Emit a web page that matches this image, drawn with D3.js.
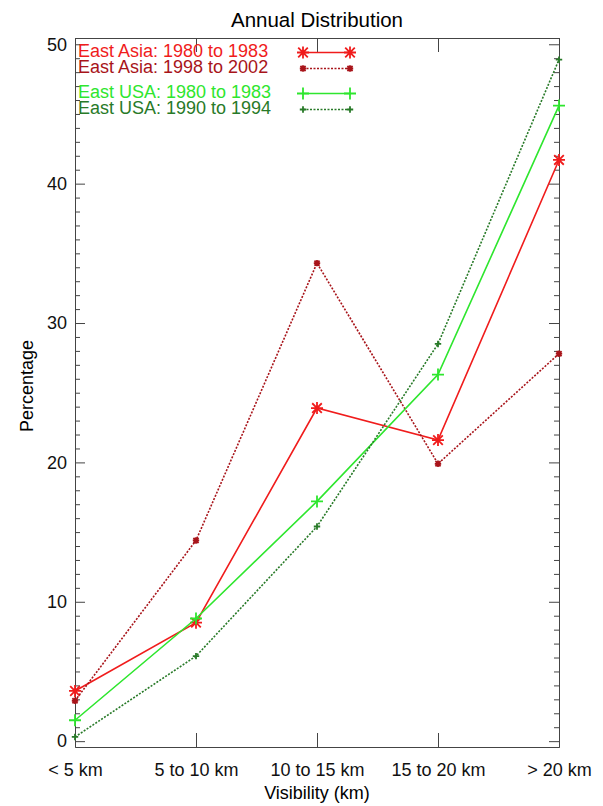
<!DOCTYPE html>
<html>
<head>
<meta charset="utf-8">
<script src="https://cdn.jsdelivr.net/npm/d3@7"></script>
<style>
  body { margin: 0; background: #fff; }
  svg { font-family: "Liberation Sans", Arial, sans-serif; }
  .axis path, .axis line { stroke: #444; }
  .axis text { fill: #111; }
</style>
</head>
<body>
<div id="chart"></div>
<script>
// chart data
const categories = ["< 5 km", "5 to 10 km", "10 to 15 km", "15 to 20 km", "> 20 km"];
const asia1980 = [3.6, 8.5, 23.9, 21.6, 41.7];
const asia1998 = [2.9, 14.4, 34.3, 19.9, 27.8];
const usa1980 = [1.5, 8.8, 17.2, 26.3, 45.6];
const usa1990 = [0.3, 6.1, 15.4, 28.5, 48.9];
const yTicks = [0, 10, 20, 30, 40, 50];
const seriesNames = ["East Asia: 1980 to 1983", "East Asia: 1998 to 2002",
    "East USA: 1980 to 1983", "East USA: 1990 to 1994"];

const width = 603, height = 806;
const plotLeft = 75, plotRight = 559, plotTop = 38, plotBottom = 747;

const series = [
    { name: seriesNames[0], values: asia1980, color: "#f01c1c", dash: null, mark: "star", size: 6 },
    { name: seriesNames[1], values: asia1998, color: "#a8141a", dash: "2,1.5", mark: "star", size: 3.2 },
    { name: seriesNames[2], values: usa1980, color: "#2ee62e", dash: null, mark: "plus", size: 6 },
    { name: seriesNames[3], values: usa1990, color: "#287a28", dash: "2,1.5", mark: "plus", size: 3.2 }
];

const svg = d3.select("#chart").append("svg")
    .attr("width", width)
    .attr("height", height);

const x = d3.scalePoint().domain(categories).range([plotLeft, plotRight]);
const y = d3.scaleLinear().domain([-0.42, 50.45]).range([plotBottom, plotTop]);

// marker path: plus, or plus + x for the IDL style asterisk
function markPath(type, s) {
    let p = `M${-s},0H${s}M0,${-s}V${s}`;
    if (type === "star") {
        let d = s * 0.8;
        p += `M${-d},${-d}L${d},${d}M${-d},${d}L${d},${-d}`;
    }
    return p;
}

/////////////
// axes    //
/////////////
const minorTicks = d3.range(0, 51, 1).filter(v => v % 10 !== 0);

svg.append("g").attr("class", "axis")
    .attr("transform", `translate(0,${plotBottom})`)
    .call(d3.axisBottom(x).tickSize(-14).tickSizeOuter(0).tickPadding(16))
    .selectAll("text").style("font-size", "18px");

svg.append("g").attr("class", "axis")
    .attr("transform", `translate(0,${plotTop})`)
    .call(d3.axisTop(x).tickSize(-14).tickSizeOuter(0).tickFormat(""));

svg.append("g").attr("class", "axis")
    .attr("transform", `translate(${plotLeft},0)`)
    .call(d3.axisLeft(y).tickValues(yTicks).tickSize(-10).tickSizeOuter(0).tickPadding(8))
    .selectAll("text").style("font-size", "18px");

svg.append("g").attr("class", "axis")
    .attr("transform", `translate(${plotLeft},0)`)
    .call(d3.axisLeft(y).tickValues(minorTicks).tickSize(-5).tickSizeOuter(0).tickFormat(""));

svg.append("g").attr("class", "axis")
    .attr("transform", `translate(${plotRight},0)`)
    .call(d3.axisRight(y).tickValues(yTicks).tickSize(-10).tickSizeOuter(0).tickFormat(""));

svg.append("g").attr("class", "axis")
    .attr("transform", `translate(${plotRight},0)`)
    .call(d3.axisRight(y).tickValues(minorTicks).tickSize(-5).tickSizeOuter(0).tickFormat(""));

// titles
svg.append("text")
    .attr("x", (plotLeft + plotRight) / 2)
    .attr("y", 27)
    .attr("text-anchor", "middle")
    .style("font-size", "20.5px")
    .text("Annual Distribution");

svg.append("text")
    .attr("x", (plotLeft + plotRight) / 2)
    .attr("y", 799)
    .attr("text-anchor", "middle")
    .style("font-size", "18px")
    .text("Visibility (km)");

svg.append("text")
    .attr("transform", "rotate(-90)")
    .attr("x", -386)
    .attr("y", 33)
    .attr("text-anchor", "middle")
    .style("font-size", "18px")
    .text("Percentage");

/////////////
// lines   //
/////////////
const line = d3.line()
    .x((d, i) => x(categories[i]))
    .y(d => y(d));

const plot = svg.append("g").attr("id", "plot");

series.forEach(s => {
    plot.append("path")
        .datum(s.values)
        .attr("fill", "none")
        .attr("stroke", s.color)
        .attr("stroke-width", 1.6)
        .attr("stroke-dasharray", s.dash)
        .attr("d", line);

    plot.selectAll(null)
        .data(s.values)
        .enter()
        .append("path")
        .attr("transform", (d, i) => `translate(${x(categories[i])},${y(d)})`)
        .attr("d", markPath(s.mark, s.size))
        .attr("fill", "none")
        .attr("stroke", s.color)
        .attr("stroke-width", 1.8);
});

/////////////
// legend  //
/////////////
const legendY = [57, 73, 98, 114];
const legend = svg.append("g").attr("id", "legend");

series.forEach((s, i) => {
    let ly = legendY[i];
    legend.append("text")
        .attr("x", 78)
        .attr("y", ly)
        .attr("fill", s.color)
        .style("font-size", "18px")
        .text(s.name);
    legend.append("line")
        .attr("x1", 303).attr("x2", 350)
        .attr("y1", ly - 4.5).attr("y2", ly - 4.5)
        .attr("stroke", s.color)
        .attr("stroke-width", 1.6)
        .attr("stroke-dasharray", s.dash);
    [303, 350].forEach(lx => {
        legend.append("path")
            .attr("transform", `translate(${lx},${ly - 4.5})`)
            .attr("d", markPath(s.mark, s.size))
            .attr("fill", "none")
            .attr("stroke", s.color)
            .attr("stroke-width", 1.8);
    });
});
</script>
</body>
</html>
